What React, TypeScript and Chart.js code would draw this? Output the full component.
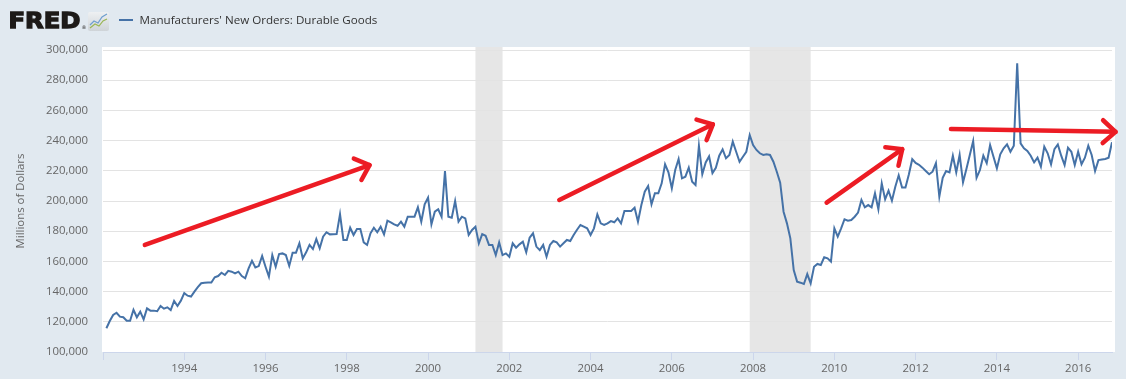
import React, { useEffect, useRef } from 'react';
import { Chart, registerables } from 'chart.js';

Chart.register(...registerables);

// Manufacturers' New Orders: Durable Goods, monthly, thousands of millions of dollars
// Series starts Feb 1992
const START_YEAR = 1992;
const START_MONTH = 2;

const orders1992 = [115.7, 120.5, 124.5, 126, 123.4, 123, 120.7, 120.7, 128, 123, 126.7];
const orders1993 = [121.6, 128.9, 127.4, 127.4, 127, 130.5, 128.7, 129.6, 127.8, 133.8, 130.5, 134];
const orders1994 = [139, 137.3, 136.7, 140, 142.9, 145.5, 145.8, 146, 146, 149.5, 150.3, 152.5];
const orders1995 = [151, 153.8, 153.2, 152, 153.2, 150.3, 148.8, 155.4, 160.4, 156, 156.9, 163.6];
const orders1996 = [156.5, 149.9, 164.2, 156.5, 164.9, 165.3, 164.2, 157, 165.8, 165.8, 172, 162];
const orders1997 = [166, 170.9, 168.2, 174.8, 168.7, 176.4, 179.3, 177.9, 178, 178.1, 191.2, 174.2];
const orders1998 = [174.2, 182.3, 177.5, 181.4, 181.4, 172.6, 170.9, 178.6, 182.3, 179.3, 183, 177.9];
const orders1999 = [187, 185.9, 184.5, 183.6, 186.3, 183, 189.6, 189.6, 189.6, 195.8, 186.3, 197.8];
const orders2000 = [202.2, 184.5, 192.9, 194.5, 189.6, 219.9, 189.6, 188.9, 200, 186.3, 189.6, 188.5];
const orders2001 = [177.5, 180.8, 183, 172, 178.1, 177, 170.9, 170.9, 164.2, 172.6, 164.2, 165.3];
const orders2002 = [163.1, 172, 169.1, 171.3, 173, 166, 175.7, 178.6, 169.8, 167.5, 170.9, 163.1];
const orders2003 = [170.9, 173.5, 172.6, 169.8, 172, 174.2, 173.5, 177.5, 181, 184.1, 183, 181.9];
const orders2004 = [177.5, 181.9, 191.2, 185.2, 184.1, 185.2, 186.7, 185.9, 188.5, 185.2, 193.4, 193.4];
const orders2005 = [193.4, 195.6, 186.3, 197.3, 206.2, 209.9, 197.8, 205.1, 205.1, 211.7, 224.3, 219];
const orders2006 = [208.4, 220.5, 227.8, 215, 216.1, 222.1, 212.8, 210.6, 236.5, 217.7, 225.5, 229.5];
const orders2007 = [218.5, 222, 230, 234.2, 228.3, 230.5, 239.3, 232.6, 226, 229.3, 232.6, 243.7];
const orders2008 = [237, 233.8, 231.6, 230.5, 231, 230.5, 226, 219.4, 212.1, 192.9, 185.2, 175.3];
const orders2009 = [154.3, 146.6, 145.9, 145, 151.6, 145.5, 156.5, 158.3, 157.6, 162.7, 162, 159.8];
const orders2010 = [181.9, 176.4, 181.9, 187.9, 187, 187.4, 189.6, 192.3, 200.7, 195.8, 197.3, 195.8];
const orders2011 = [205.1, 194.5, 211.7, 201.1, 206.8, 200.2, 209.5, 217, 209, 209, 217.5, 227.7];
const orders2012 = [225.2, 224, 222.1, 219.9, 217.7, 219.4, 225, 202.9, 215.4, 219.9, 219, 230];
const orders2013 = [219, 230.5, 212.4, 221.2, 230.5, 239.7, 215.4, 220.5, 230, 225, 237.1, 229.3];
const orders2014 = [221.6, 230.9, 234.9, 237.5, 232.6, 236.6, 291.2, 238.2, 234.9, 233.1, 230, 225.6];
const orders2015 = [228.7, 222.7, 236, 231.6, 224.3, 234.4, 237.5, 230, 223.8, 235.3, 232.6, 223.8];
const orders2016 = [232.6, 224.3, 228.7, 236.6, 230.5, 219.9, 227.1, 227.5, 227.8, 228.7, 238.9];

const ordersK = [
  orders1992, orders1993, orders1994, orders1995, orders1996, orders1997, orders1998,
  orders1999, orders2000, orders2001, orders2002, orders2003, orders2004, orders2005,
  orders2006, orders2007, orders2008, orders2009, orders2010, orders2011, orders2012,
  orders2013, orders2014, orders2015, orders2016,
].flat();

const SERIES_LABEL = "Manufacturers' New Orders: Durable Goods";
const Y_TITLE = 'Millions of Dollars';
const Y_MIN = 100000;
const Y_MAX = 300000;
const Y_STEP = 20000;
const X_MIN_YEAR = 1992;
const xTickYears = [1992, 1994, 1996, 1998, 2000, 2002, 2004, 2006, 2008, 2010, 2012, 2014, 2016];
const hiddenTickLabels = [1992];

// recessions: [year, month] start / end
const recessionStarts = [[2001, 3], [2007, 12]];
const recessionEnds = [[2001, 11], [2009, 6]];

// hand-drawn red arrow annotations in data coordinates: [fractional year, millions of dollars]
const arrowFrom = [[1993.03, 170900], [2003.23, 200700], [2009.81, 198900], [2012.87, 247700]];
const arrowTo = [[1998.56, 223800], [2007.01, 250800], [2011.67, 234300], [2016.92, 245800]];

const ym = (y: number, m: number) => y + (m - 1) / 12;

const points = ordersK.map((v, i) => ({
  x: ym(START_YEAR, START_MONTH) + i / 12,
  y: v * 1000,
}));
const X_MAX = points[points.length - 1].x;

const FONT = '"Open Sans", sans-serif';

const backgroundPlugin = {
  id: 'fredBackground',
  beforeDraw(chart: any) {
    const { ctx, chartArea, scales } = chart;
    ctx.save();
    ctx.fillStyle = '#e1e9f0';
    ctx.fillRect(0, 0, chart.width, chart.height);
    ctx.fillStyle = '#ffffff';
    ctx.fillRect(chartArea.left - 1, chartArea.top - 3, chartArea.right - chartArea.left + 4, chartArea.bottom - chartArea.top + 3);
    ctx.fillStyle = '#e6e6e6';
    recessionStarts.forEach((s, i) => {
      const e = recessionEnds[i];
      const x1 = scales.x.getPixelForValue(ym(s[0], s[1]));
      const x2 = scales.x.getPixelForValue(ym(e[0], e[1]));
      ctx.fillRect(x1, chartArea.top - 3, x2 - x1, chartArea.bottom - chartArea.top + 3);
    });
    ctx.restore();
  },
};

const arrowPlugin = {
  id: 'redArrows',
  afterDatasetsDraw(chart: any) {
    const { ctx, scales } = chart;
    ctx.save();
    ctx.strokeStyle = '#ec1c24';
    ctx.lineWidth = 4.5;
    ctx.lineCap = 'round';
    ctx.lineJoin = 'round';
    arrowFrom.forEach((f, i) => {
      const t = arrowTo[i];
      const x1 = scales.x.getPixelForValue(f[0]);
      const y1 = scales.y.getPixelForValue(f[1]);
      const x2 = scales.x.getPixelForValue(t[0]);
      const y2 = scales.y.getPixelForValue(t[1]);
      const ang = Math.atan2(y1 - y2, x1 - x2);
      const headLen = 17;
      const spread = (42 * Math.PI) / 180;
      ctx.beginPath();
      ctx.moveTo(x1, y1);
      ctx.lineTo(x2, y2);
      ctx.stroke();
      ctx.beginPath();
      ctx.moveTo(x2 + headLen * Math.cos(ang + spread), y2 + headLen * Math.sin(ang + spread));
      ctx.lineTo(x2, y2);
      ctx.lineTo(x2 + headLen * Math.cos(ang - spread), y2 + headLen * Math.sin(ang - spread));
      ctx.stroke();
    });
    ctx.restore();
  },
};

const headerPlugin = {
  id: 'fredHeader',
  afterDraw(chart: any) {
    const { ctx, chartArea } = chart;
    ctx.save();
    // FRED logo
    ctx.font = 'bold 22px "DejaVu Sans"';
    const w = ctx.measureText('FRED').width;
    ctx.translate(8.5, 28.3);
    ctx.scale(72 / w, 1);
    ctx.fillStyle = '#1d1a18';
    ctx.strokeStyle = '#1d1a18';
    ctx.lineWidth = 1.3;
    ctx.lineJoin = 'miter';
    ctx.textBaseline = 'alphabetic';
    ctx.fillText('FRED', 0, 0);
    ctx.strokeText('FRED', 0, 0);
    ctx.restore();

    ctx.save();
    ctx.fillStyle = '#1d1a18';
    ctx.font = '5px "DejaVu Sans"';
    ctx.fillText('®', 81.5, 29);
    // icon
    const g = ctx.createLinearGradient(0, 12, 0, 31);
    g.addColorStop(0, '#eef0f2');
    g.addColorStop(1, '#cfd4d8');
    ctx.fillStyle = g;
    ctx.beginPath();
    ctx.roundRect(88, 12, 21, 19, 2);
    ctx.fill();
    ctx.lineWidth = 1.2;
    ctx.strokeStyle = '#6f9fcf';
    ctx.beginPath();
    ctx.moveTo(90, 25); ctx.lineTo(94, 21); ctx.lineTo(98, 23); ctx.lineTo(102, 17); ctx.lineTo(107, 14);
    ctx.stroke();
    ctx.strokeStyle = '#9ab655';
    ctx.beginPath();
    ctx.moveTo(90, 28); ctx.lineTo(95, 24); ctx.lineTo(99, 26); ctx.lineTo(103, 21); ctx.lineTo(107, 19);
    ctx.stroke();

    // legend
    ctx.strokeStyle = '#4572a7';
    ctx.lineWidth = 2;
    ctx.beginPath();
    ctx.moveTo(119, 20);
    ctx.lineTo(133, 20);
    ctx.stroke();
    ctx.font = `12px ${FONT}`;
    const lw = ctx.measureText(SERIES_LABEL).width;
    const fs = (12 * 238) / lw;
    ctx.font = `${fs}px ${FONT}`;
    ctx.fillStyle = '#333333';
    ctx.textBaseline = 'middle';
    ctx.textAlign = 'left';
    ctx.fillText(SERIES_LABEL, 139.5, 20.5);

    // y axis title
    ctx.translate(20.7, (chartArea.top + chartArea.bottom) / 2);
    ctx.rotate(-Math.PI / 2);
    ctx.font = `11.4px ${FONT}`;
    ctx.fillStyle = '#666666';
    ctx.textAlign = 'center';
    ctx.textBaseline = 'middle';
    ctx.fillText(Y_TITLE, 0, 0);
    ctx.restore();
  },
};

export default function App() {
  const ref = useRef<HTMLCanvasElement>(null);
  useEffect(() => {
    if (!ref.current) return;
    const chart = new Chart(ref.current, {
      type: 'line',
      data: {
        datasets: [
          {
            label: SERIES_LABEL,
            data: points,
            borderColor: '#4572a7',
            borderWidth: 2,
            pointRadius: 0,
            tension: 0,
            fill: false,
          },
        ],
      },
      options: {
        animation: false,
        responsive: false,
        parsing: false,
        layout: { padding: { top: 50, right: 14, left: 0, bottom: 0 } },
        scales: {
          x: {
            type: 'linear',
            min: X_MIN_YEAR,
            max: X_MAX,
            afterBuildTicks: (scale: any) => {
              scale.ticks = xTickYears.map((v) => ({ value: v }));
            },
            afterFit: (scale: any) => {
              scale.height = 27;
            },
            ticks: {
              autoSkip: false,
              maxRotation: 0,
              padding: 2,
              color: '#666666',
              font: { family: FONT, size: 11.4 },
              callback: (v: any) => (hiddenTickLabels.includes(Number(v)) ? '' : String(v)),
            },
            grid: {
              drawOnChartArea: false,
              drawTicks: true,
              tickLength: 8,
              color: '#ccd6eb',
            },
            border: { display: true, color: '#ccd6eb', width: 1 },
          },
          y: {
            min: Y_MIN,
            max: Y_MAX,
            afterFit: (scale: any) => {
              scale.width = 103;
            },
            ticks: {
              stepSize: Y_STEP,
              padding: 15,
              color: '#666666',
              font: { family: FONT, size: 11.4 },
              callback: (v: any) => Number(v).toLocaleString('en-US'),
            },
            grid: { color: '#e3e3e3', drawTicks: false, lineWidth: 1 },
            border: { display: false },
          },
        },
        plugins: {
          legend: { display: false },
          tooltip: { enabled: false },
        },
      },
      plugins: [backgroundPlugin, arrowPlugin, headerPlugin],
    } as any);
    return () => chart.destroy();
  }, []);
  return (
    <div style={{ position: 'absolute', left: 0, top: 0, width: 1126, height: 379 }}>
      <canvas ref={ref} width={1126} height={379} style={{ display: 'block', width: 1126, height: 379 }} />
    </div>
  );
}
